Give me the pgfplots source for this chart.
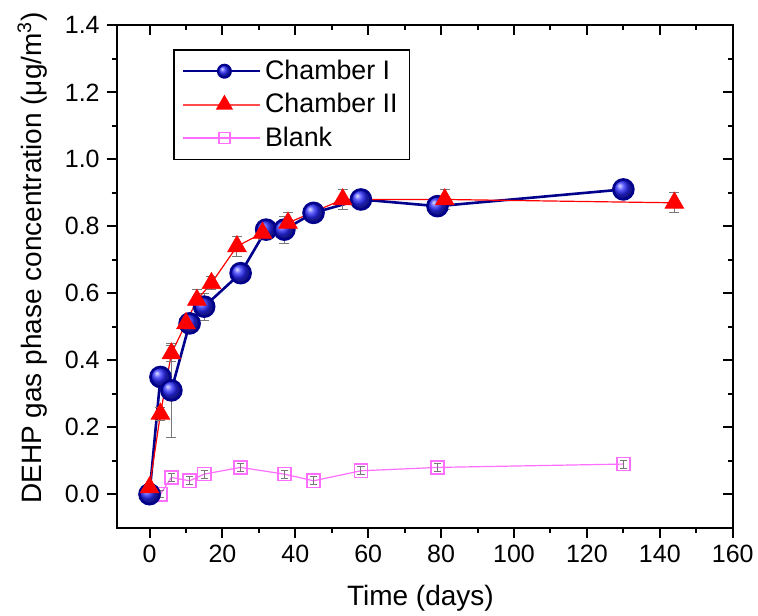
\documentclass[border=0pt]{standalone}
\usepackage{fontspec}
\setmainfont{Liberation Sans}
\usepackage{pgfplots}
\pgfplotsset{compat=1.18}
\definecolor{navyline}{RGB}{0,0,140}
\definecolor{blankcol}{RGB}{255,110,255}
\definecolor{errgray}{RGB}{120,120,120}
\definecolor{ballblue}{RGB}{40,40,255}
\begin{document}
\begin{tikzpicture}
\useasboundingbox (-58.35pt,-43.65pt) rectangle (320.65pt,263.85pt);
% main axis: ticks outside on left/bottom
\begin{axis}[
  at={(0,0)}, anchor=south west,
  scale only axis, width=308pt, height=251.2pt,
  xmin=-9, xmax=160, ymin=-0.1, ymax=1.4,
  xtick={0,20,...,160}, ytick={0,0.2,...,1.4},
  minor x tick num=1, minor y tick num=1,
  tick align=outside, xtick pos=bottom, ytick pos=left,
  major tick length=5pt, minor tick length=2.5pt,
  every tick/.style={black, line width=1pt},
  axis line style={line width=1.1pt},
  /pgf/number format/assume math mode=true,
  tick label style={font=\fontsize{12.5}{15}\selectfont},
  yticklabel style={/pgf/number format/.cd, fixed, fixed zerofill, precision=1},
  xticklabel style={/pgf/number format/.cd, fixed},
  label style={font=\fontsize{14}{17}\selectfont},
  xlabel={Time (days)},
  ylabel={DEHP gas phase concentration (μg/m\textsuperscript{3})},
  xlabel style={at={(rel axis cs:0.493,-0.14)}, anchor=center},
  ylabel style={at={(rel axis cs:-0.137,0.537)}, anchor=center},
  legend style={at={(rel axis cs:0.0919,0.952)}, anchor=north west,
    draw=black, line width=0.6pt, font=\fontsize{13.4}{16}\selectfont,
    legend cell align=left, row sep=1.5pt, inner xsep=4pt, inner ysep=3pt},
  legend image code/.code={\path (-5.2pt,0pt) -- (33.3pt,0pt);
    \draw[mark repeat=2,mark phase=2,#1] plot coordinates {(0pt,0pt) (15.5pt,0pt) (31pt,0pt)};},
  error bars/error bar style={errgray, line width=0.5pt, solid},
  error bars/error mark options={errgray, rotate=90, mark size=2.5pt, line width=0.5pt, solid},
]
% Blank (drawn first, behind)
\addplot[forget plot, blankcol, line width=0.6pt, mark=square, mark size=3.3pt,
  mark options={line width=0.75pt, fill=none},
  error bars/.cd, y dir=both, y explicit,
  error mark options={errgray, rotate=90, mark size=1.8pt, line width=0.5pt}]
  coordinates {
  (3,0.00) +- (0,0.01)
  (6,0.05) +- (0,0.012)
  (11,0.04) +- (0,0.012)
  (15,0.06) +- (0,0.012)
  (25,0.08) +- (0,0.012)
  (37,0.06) +- (0,0.012)
  (45,0.04) +- (0,0.012)
  (58,0.07) +- (0,0.012)
  (79,0.08) +- (0,0.012)
  (130,0.09) +- (0,0.012)
  };
% Chamber I
\addplot[forget plot, navyline, line width=1.3pt, mark=ball, mark size=5pt,
  mark options={ball color=ballblue},
  error bars/.cd, y dir=both, y explicit]
  coordinates {
  (0,0.00) +- (0,0.0)
  (3,0.35) +- (0,0.02)
  (6,0.31) +- (0,0.14)
  (11,0.51) +- (0,0.02)
  (15,0.56) +- (0,0.04)
  (25,0.66) +- (0,0.0)
  (32,0.79) +- (0,0.02)
  (37,0.79) +- (0,0.04)
  (45,0.84) +- (0,0.02)
  (58,0.88) +- (0,0.01)
  (79,0.86) +- (0,0.02)
  (130,0.91) +- (0,0.0)
  };
% Chamber II
\addplot[forget plot, red, line width=0.6pt, mark=triangle*, mark size=5.4pt,
  mark options={fill=red, draw=red, line width=0.3pt},
  error bars/.cd, y dir=both, y explicit]
  coordinates {
  (0,0.02) +- (0,0.0)
  (3,0.24) +- (0,0.02)
  (6,0.42) +- (0,0.025)
  (10,0.51) +- (0,0.02)
  (13,0.58) +- (0,0.03)
  (17,0.63) +- (0,0.02)
  (24,0.74) +- (0,0.03)
  (31,0.78) +- (0,0.02)
  (38,0.81) +- (0,0.03)
  (53,0.88) +- (0,0.03)
  (81,0.88) +- (0,0.03)
  (144,0.87) +- (0,0.03)
  };
\addlegendimage{navyline, line width=1.1pt, mark=ball, mark size=3.2pt, mark options={ball color=ballblue}}
\addlegendentry{Chamber I}
\addlegendimage{red!70, line width=1pt, mark=triangle*, mark size=4pt, mark options={fill=red, draw=red}}
\addlegendentry{Chamber II}
\addlegendimage{blankcol, line width=0.7pt, mark=square, mark size=2.7pt, mark options={fill=white}}
\addlegendentry{Blank}
\end{axis}
% overlay: ticks inside on top/right
\begin{axis}[
  at={(0,0)}, anchor=south west,
  scale only axis, width=308pt, height=251.2pt,
  xmin=-9, xmax=160, ymin=-0.1, ymax=1.4,
  xtick={0,20,...,160}, ytick={0,0.2,...,1.4},
  minor x tick num=1, minor y tick num=1,
  tick align=inside, xtick pos=top, ytick pos=right,
  major tick length=5pt, minor tick length=2.5pt,
  every tick/.style={black, line width=1pt},
  axis line style={line width=1.1pt},
  xticklabels={}, yticklabels={},
]
\end{axis}
\end{tikzpicture}
\end{document}
